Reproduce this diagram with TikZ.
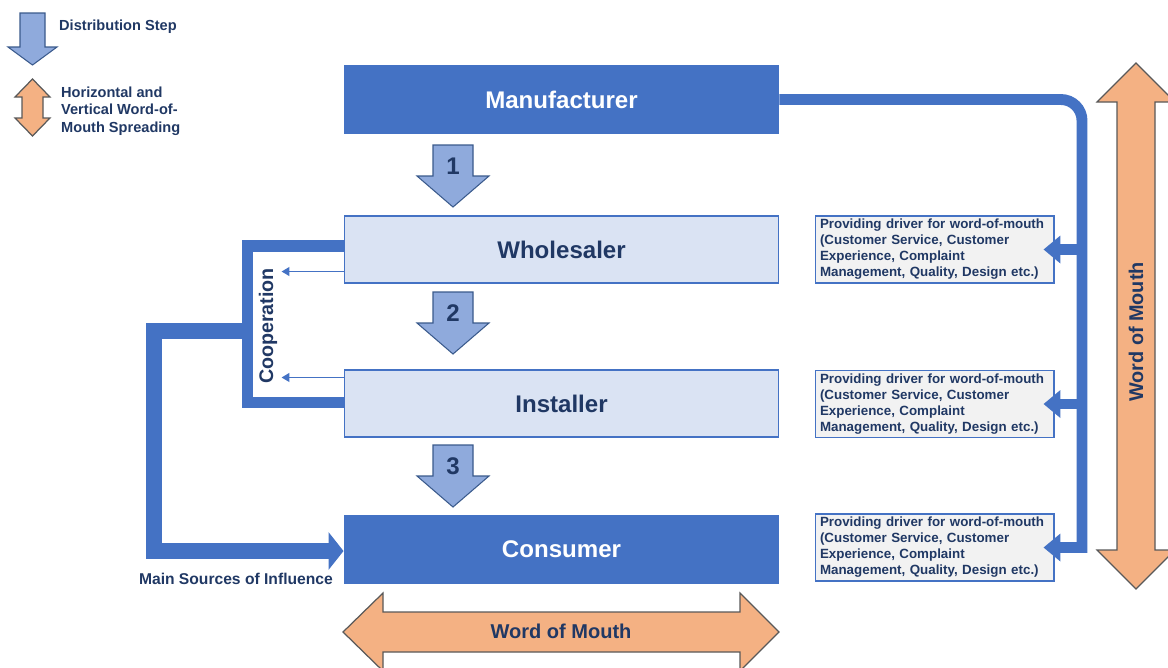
\documentclass[tikz,border=0pt]{standalone}
\usepackage{fontspec}
\setmainfont{Liberation Sans}
\usepackage{xcolor}
\usetikzlibrary{arrows.meta, calc}

\definecolor{dblue}{HTML}{4472C4}
\definecolor{lblue}{HTML}{DAE3F3}
\definecolor{navy}{HTML}{203864}
\definecolor{stepblue}{HTML}{8FAADC}
\definecolor{stepline}{HTML}{3A5A8C}
\definecolor{peach}{HTML}{F4B183}
\definecolor{greyline}{HTML}{595959}
\definecolor{drvfill}{HTML}{F2F2F2}

\newcommand{\drvtext}{Providing driver for word-of-mouth\\(Customer Service, Customer\\Experience, Complaint\\Management, Quality, Design etc.)}

\begin{document}
\begin{tikzpicture}[x=0.02cm, y=-0.02cm,
    stagebox/.style={draw=dblue, line width=0.6pt, minimum width=8.7cm, minimum height=1.34cm, inner sep=0pt, font=\fontsize{13.7}{16}\selectfont\bfseries},
    drvbox/.style={draw=dblue, fill=drvfill, line width=0.6pt, text width=4.58cm, inner xsep=0.1cm, inner ysep=0pt, minimum height=1.34cm, align=left, text=navy, font=\fontsize{7.6}{9.1}\selectfont\bfseries},
    steparrow/.style={draw=stepline, fill=stepblue, line width=0.6pt},
    womarrow/.style={draw=greyline, fill=peach, line width=0.7pt},
    label/.style={text=navy, font=\fontsize{#1}{#1}\selectfont\bfseries},
    drvline/.style={draw=dblue, line width=6.2pt},
    coopline/.style={draw=dblue, line width=6.8pt},
    coopthin/.style={draw=dblue, line width=1pt, -{Triangle[length=4.5pt, width=5pt]}},
    srcline/.style={draw=dblue, line width=9pt}]
    \useasboundingbox (0,0) rectangle (1168,667);
    \clip (0,0) rectangle (1168,667);

    % legend
    \draw[steparrow] (20,13) -- (45,13) -- (45,47) -- (57,47) -- (32.5,65) -- (8,47) -- (20,47) -- cycle;
    \node[label=8.3, anchor=west] (legstep) at (53,27) {Distribution Step};
    \draw[womarrow] (32.5,79) -- (50,97) -- (43,97) -- (43,118) -- (50,118) -- (32.5,136) -- (15,118) -- (22,118) -- (22,97) -- (15,97) -- cycle;
    \node[label=8.3, anchor=west, align=left, font=\fontsize{8.3}{10}\selectfont\bfseries] (legwom) at (55,111) {Horizontal and\\Vertical Word-of-\\Mouth Spreading};

    % stages
    \node[stagebox, fill=dblue, text=white] (manu) at (561.5,99.5) {Manufacturer};
    \node[stagebox, fill=lblue, text=navy] (whole) at (561.5,249.5) {Wholesaler};
    \node[stagebox, fill=lblue, text=navy] (inst) at (561.5,403.5) {Installer};
    \node[stagebox, fill=dblue, text=white] (cons) at (561.5,549.5) {Consumer};

    % distribution steps
    \foreach \t/\n in {145/1, 292/2, 445/3} {
        \draw[steparrow] (433,\t) -- (473,\t) -- (473,\t+31) -- (489,\t+31) -- (453,\t+62) -- (417,\t+31) -- (433,\t+31) -- cycle;
        \node[label=13.7] (step\n) at (453,\t+21) {\n};
    }

    % drivers
    \node[drvbox] (drv1) at (934.5,249.5) {\drvtext};
    \node[drvbox] (drv2) at (934.5,404) {\drvtext};
    \node[drvbox] (drv3) at (934.5,547.5) {\drvtext};

    \coordinate (spine) at (1082,99.5);
    \draw[drvline, rounded corners=12pt, -{Triangle[length=9.6pt, width=15.3pt]}, shorten >=-0.22cm]
        (manu.east) -- (spine) [sharp corners] -- (drv3.east -| spine) -- (drv3.east);
    \draw[drvline, -{Triangle[length=9.6pt, width=15.3pt]}, shorten >=-0.22cm] (drv1.east -| spine) -- (drv1.east);
    \draw[drvline, -{Triangle[length=9.6pt, width=15.3pt]}, shorten >=-0.22cm] (drv2.east -| spine) -- (drv2.east);

    % cooperation
    \draw[coopline] ($(whole.west)+(0,-3.5)$) -- ++(-96,0) |- ($(inst.west)+(0,-1)$);
    \draw[coopthin] ($(whole.south west)+(0,-12)$) -- ++(-62,0);
    \draw[coopthin] ($(inst.north west)+(0,8)$) -- ++(-62,0);
    \node[label=11.2, rotate=90] (coop) at (268,326) {Cooperation};

    % main sources
    \coordinate (coopmid) at (248,331);
    \draw[srcline, -{Triangle[length=8.5pt, width=21pt]}] (coopmid) -- (154,331) |- ($(cons.west)+(0,1.5)$);
    \node[label=8.9, anchor=east] (src) at (339,579) {Main Sources of Influence};

    % word of mouth
    \draw[womarrow] (1136,63) -- (1175,102) -- (1155,102) -- (1155,550) -- (1175,550) -- (1136,589) -- (1097,550) -- (1117,550) -- (1117,102) -- (1097,102) -- cycle;
    \node[label=11.3, rotate=90] (womv) at (1136,332) {Word of Mouth};
    \draw[womarrow] (343,632) -- (383,593) -- (383,612) -- (740,612) -- (740,593) -- (779,632) -- (740,671) -- (740,652) -- (383,652) -- (383,671) -- cycle;
    \node[label=11.4] (womh) at (561,631) {Word of Mouth};
\end{tikzpicture}
\end{document}
